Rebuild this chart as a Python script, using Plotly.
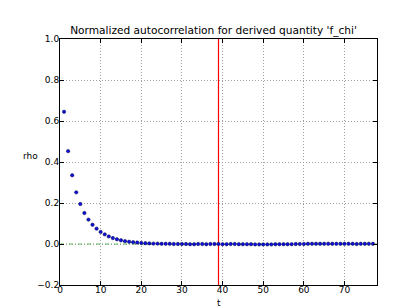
import plotly.graph_objects as go

t = list(range(1, 78))
rho_head = [0.645, 0.453, 0.335, 0.252, 0.195, 0.151, 0.119, 0.094, 0.075, 0.059,
            0.047, 0.037, 0.029, 0.023, 0.018, 0.014, 0.011, 0.009, 0.007, 0.005,
            0.004, 0.003, 0.002, 0.002, 0.001, 0.001, 0.001, 0.0, 0.0, 0.0]
rho_tail = [0.0, -0.001, -0.001, 0.0, 0.0, -0.001, 0.0, 0.0, 0.0, -0.001,
            -0.001, 0.0, 0.0, -0.001, -0.001, -0.001, -0.001, -0.002, -0.002, -0.002,
            -0.002, -0.002, -0.001, -0.001, -0.001, -0.001, -0.001, 0.0, 0.0, 0.0,
            0.001, 0.001, 0.001, 0.001, 0.001, 0.001, 0.001, 0.001, 0.001, 0.001,
            0.001, 0.001, 0.0, 0.001, 0.001, 0.001, 0.001]
rho = rho_head + rho_tail
cutoff = 39
x_range = [0, 78]
y_range = [-0.2, 1.0]
x_ticks = [0, 10, 20, 30, 40, 50, 60, 70]
y_ticks = [-0.2, 0.0, 0.2, 0.4, 0.6, 0.8, 1.0]

fig = go.Figure()
fig.add_trace(go.Scatter(x=x_range, y=[0, 0], mode="lines",
                         line=dict(color="#5cb85c", width=1.2, dash="4px,2px,1px,2px"),
                         hoverinfo="skip", showlegend=False))
fig.add_trace(go.Scatter(x=[cutoff, cutoff], y=y_range, mode="lines",
                         line=dict(color="red", width=1.2), showlegend=False))
fig.add_trace(go.Scatter(x=t, y=rho, mode="markers",
                         marker=dict(symbol="circle", size=3.4, color="#1010e0",
                                     line=dict(color="#000040", width=0.5)),
                         showlegend=False))

axis_common = dict(showline=True, linecolor="black", linewidth=1, mirror="allticks",
                   ticks="inside", ticklen=4, tickcolor="black",
                   showgrid=True, gridcolor="#a0a0a0", griddash="1px,2px", gridwidth=1,
                   zeroline=False, tickfont=dict(family="DejaVu Sans", size=9, color="black"))

fig.update_layout(
    width=411, height=308,
    margin=dict(l=52, r=42, t=31, b=31),
    paper_bgcolor="white", plot_bgcolor="white",
    title=dict(text="Normalized autocorrelation for derived quantity 'f_chi'",
               x=0.5, xanchor="center", yref="container", y=1 - 22 / 308, yanchor="middle",
               font=dict(family="DejaVu Sans", size=10.6, color="black")),
    xaxis=dict(range=x_range, tickvals=x_ticks, ticklabelstandoff=-4, **axis_common),
    yaxis=dict(range=y_range, tickvals=y_ticks, tickformat=".1f", ticklabelstandoff=-2,
               **axis_common),
    annotations=[
        dict(text="t", xref="paper", yref="paper", x=0.5, y=-18 / 246,
             xanchor="center", yanchor="middle", showarrow=False,
             font=dict(family="DejaVu Sans", size=9, color="black")),
        dict(text="rho", xref="paper", yref="paper", x=-0.063, y=0.524,
             xanchor="right", yanchor="middle", showarrow=False,
             font=dict(family="DejaVu Sans", size=9, color="black")),
    ],
)
fig.write_html("out.html")
